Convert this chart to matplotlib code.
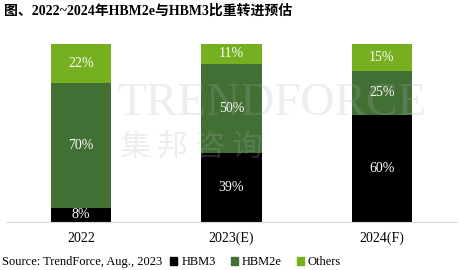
import numpy as np
import matplotlib.pyplot as plt
from matplotlib.patches import Patch

plt.rcParams['font.family'] = ['Liberation Serif', 'Noto Sans CJK SC']

# data
years = ["2022", "2023(E)", "2024(F)"]
hbm3 = [8, 39, 60]
hbm2e = [70, 50, 25]
others = [22, 11, 15]

c_hbm3 = "#000000"
c_hbm2e = "#426F34"
c_others = "#76B021"

fig = plt.figure(figsize=(4.6, 2.7), dpi=100)
ax = fig.add_axes([6 / 460, 48 / 270, 451 / 460, 178 / 270])

x = np.arange(len(years))
w = 0.4
bottom = np.zeros(len(years))
for vals, col in [(hbm3, c_hbm3), (hbm2e, c_hbm2e), (others, c_others)]:
    vals = np.array(vals)
    ax.bar(x, vals, w, bottom=bottom, color=col, zorder=2)
    for xi, b, v in zip(x, bottom, vals):
        ax.text(xi, b + v / 2, f"{v}%", ha="center", va="center",
                color="white", fontsize=10, zorder=4)
    bottom += vals

ax.set_xlim(-0.5, 2.5)
ax.set_ylim(0, 100)
for s in ["top", "right", "left"]:
    ax.spines[s].set_visible(False)
ax.spines["bottom"].set_color("#d9d9d9")
ax.set_yticks([])
ax.set_xticks(x)
ax.set_xticklabels(years, fontsize=10)
ax.tick_params(axis="x", length=0, pad=7)

# watermark
fig.text(117 / 460, 1 - 104 / 270, "TRENDFORCE", fontsize=34, color="#b0b0b0",
         alpha=0.22, va="center", ha="left", zorder=5)
fig.text(120 / 460, 1 - 147 / 270, "集 邦 咨 询", fontsize=22, color="#b0b0b0",
         alpha=0.22, va="center", ha="left", family="Noto Sans CJK SC", zorder=5)

# title
fig.text(4 / 460, 1 - 11 / 270, "图、2022~2024年HBM2e与HBM3比重转进预估",
         fontsize=10, fontweight="bold", va="center", ha="left")

# source + legend
fig.text(2 / 460, 1 - 262 / 270, "Source: TrendForce, Aug., 2023",
         fontsize=9, va="center", ha="left")
handles = [Patch(color=c_hbm3, label="HBM3"),
           Patch(color=c_hbm2e, label="HBM2e"),
           Patch(color=c_others, label="Others")]
fig.legend(handles=handles, loc="center left", bbox_to_anchor=(170 / 460, 1 - 262 / 270),
           ncol=3, frameon=False, fontsize=9, handlelength=0.6, handleheight=0.6,
           handletextpad=0.3, columnspacing=1.2, borderpad=0, borderaxespad=0)

fig.savefig("out.png", dpi=100)
